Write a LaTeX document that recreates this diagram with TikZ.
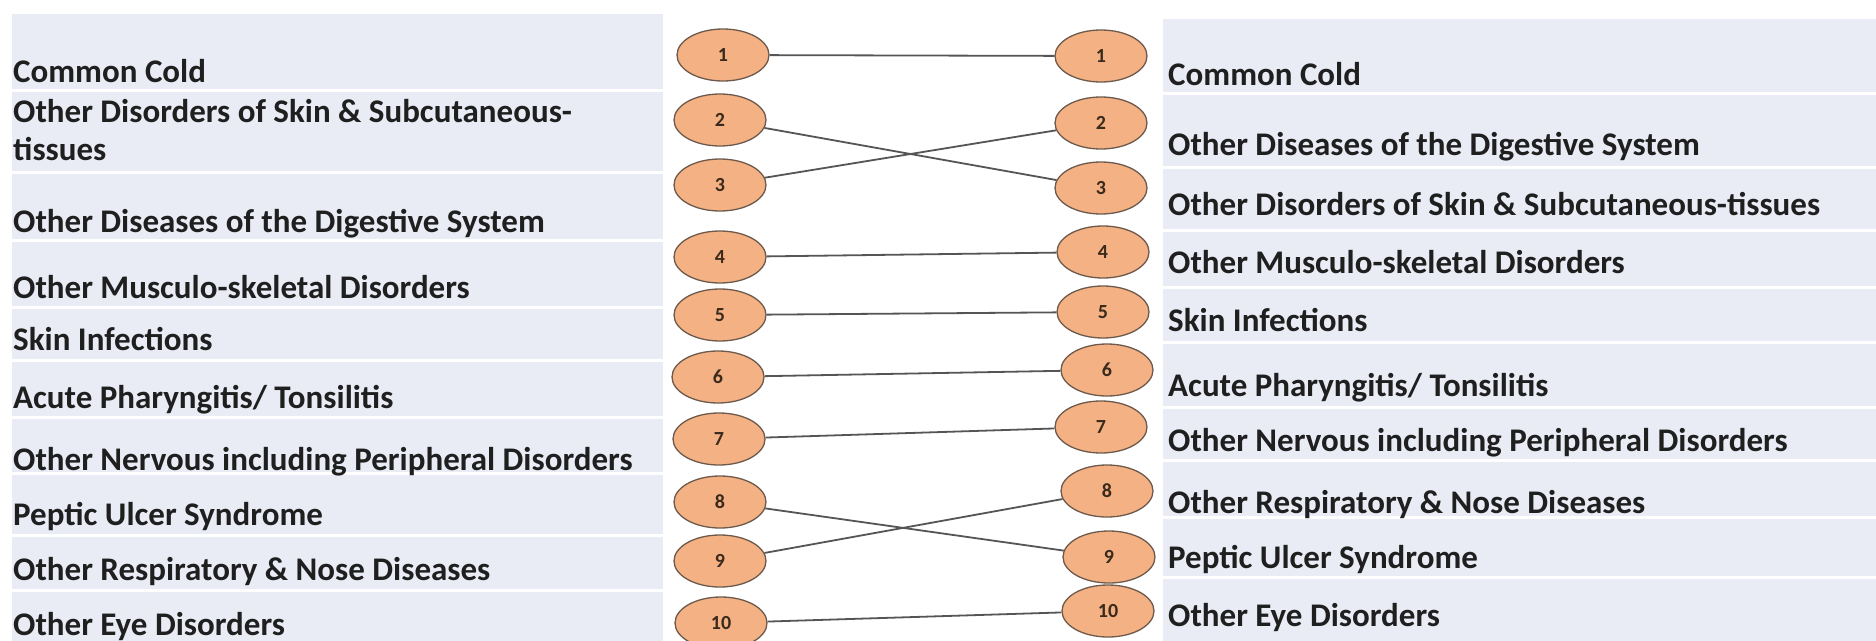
\documentclass[tikz,border=0pt]{standalone}
\usepackage{fontspec}
\setmainfont{Carlito}
\usetikzlibrary{shapes.geometric}
\definecolor{rowbg}{HTML}{E9EBF5}
\definecolor{ovalfill}{HTML}{F4B183}
\definecolor{ovaledge}{HTML}{6E5A4C}
\definecolor{linkc}{HTML}{555555}
\definecolor{numc}{HTML}{3A2A1C}
\begin{document}
\begin{tikzpicture}[x=1pt,y=-1pt,
  lbl/.style={anchor=base west, inner sep=0pt, font=\fontsize{33}{36}\selectfont\bfseries, text=black!88},
  oval/.style={ellipse, draw=ovaledge, line width=1.3pt, fill=ovalfill, minimum width=92pt, minimum height=52pt, inner sep=0pt, font=\fontsize{20}{22}\selectfont\bfseries, text=numc},
  link/.style={draw=linkc, line width=1.8pt}]
\useasboundingbox[fill=white] (0,0) rectangle (1876,640);
% left table rows
\foreach \a/\b in {12/90, 90/172, 172/240, 240/307, 307/360, 360/417, 417/473, 473/535, 535/590, 590/642}
  \fill[rowbg] (12,\a+1.5) rectangle (663,\b-1.5);
% right table rows
\foreach \a/\b in {17/93, 93/167, 167/230, 230/287, 287/342, 342/407, 407/460, 460/517, 517/577, 577/642}
  \fill[rowbg] (1163,\a+1.5) rectangle (1876,\b-1.5);
% left labels
\node[lbl] (lt1)  at (13,82)  {Common Cold};
\node[lbl] (lt2a) at (13,122) {Other Disorders of Skin \& Subcutaneous-};
\node[lbl] (lt2b) at (13,160) {tissues};
\node[lbl] (lt3)  at (13,232) {Other Diseases of the Digestive System};
\node[lbl] (lt4)  at (13,298) {Other Musculo-skeletal Disorders};
\node[lbl] (lt5)  at (13,350) {Skin Infections};
\node[lbl] (lt6)  at (13,408) {Acute Pharyngitis/ Tonsilitis};
\node[lbl] (lt7)  at (13,470) {Other Nervous including Peripheral Disorders};
\node[lbl] (lt8)  at (13,525) {Peptic Ulcer Syndrome};
\node[lbl] (lt9)  at (13,580) {Other Respiratory \& Nose Diseases};
\node[lbl] (lt10) at (13,635) {Other Eye Disorders};
% right labels
\node[lbl] (rt1)  at (1168,85)  {Common Cold};
\node[lbl] (rt2)  at (1168,155) {Other Diseases of the Digestive System};
\node[lbl] (rt3)  at (1168,215) {Other Disorders of Skin \& Subcutaneous-tissues};
\node[lbl] (rt4)  at (1168,273) {Other Musculo-skeletal Disorders};
\node[lbl] (rt5)  at (1168,331) {Skin Infections};
\node[lbl] (rt6)  at (1168,396) {Acute Pharyngitis/ Tonsilitis};
\node[lbl] (rt7)  at (1168,451) {Other Nervous including Peripheral Disorders};
\node[lbl] (rt8)  at (1168,513) {Other Respiratory \& Nose Diseases};
\node[lbl] (rt9)  at (1168,568) {Peptic Ulcer Syndrome};
\node[lbl] (rt10) at (1168,626) {Other Eye Disorders};
% left ovals
\node[oval] (L1)  at (723,55)  {1};
\node[oval] (L2)  at (720,120) {2};
\node[oval] (L3)  at (720,185) {3};
\node[oval] (L4)  at (720,257) {4};
\node[oval] (L5)  at (720,315) {5};
\node[oval] (L6)  at (718,377) {6};
\node[oval] (L7)  at (719,439) {7};
\node[oval] (L8)  at (720,502) {8};
\node[oval] (L9)  at (720,561) {9};
\node[oval] (L10) at (721,623) {10};
% right ovals
\node[oval] (R1)  at (1101,56)  {1};
\node[oval] (R2)  at (1101,123) {2};
\node[oval] (R3)  at (1101,188) {3};
\node[oval] (R4)  at (1103,252) {4};
\node[oval] (R5)  at (1103,312) {5};
\node[oval] (R6)  at (1107,370) {6};
\node[oval] (R7)  at (1101,427) {7};
\node[oval] (R8)  at (1107,491) {8};
\node[oval] (R9)  at (1109,557) {9};
\node[oval] (R10) at (1108,611) {10};
% connectors
\draw[link] (L1) -- (R1);
\draw[link] (L2) -- (R3);
\draw[link] (L3) -- (R2);
\draw[link] (L4) -- (R4);
\draw[link] (L5) -- (R5);
\draw[link] (L6) -- (R6);
\draw[link] (L7) -- (R7);
\draw[link] (L8) -- (R9);
\draw[link] (L9) -- (R8);
\draw[link] (L10) -- (R10);
\end{tikzpicture}
\end{document}
